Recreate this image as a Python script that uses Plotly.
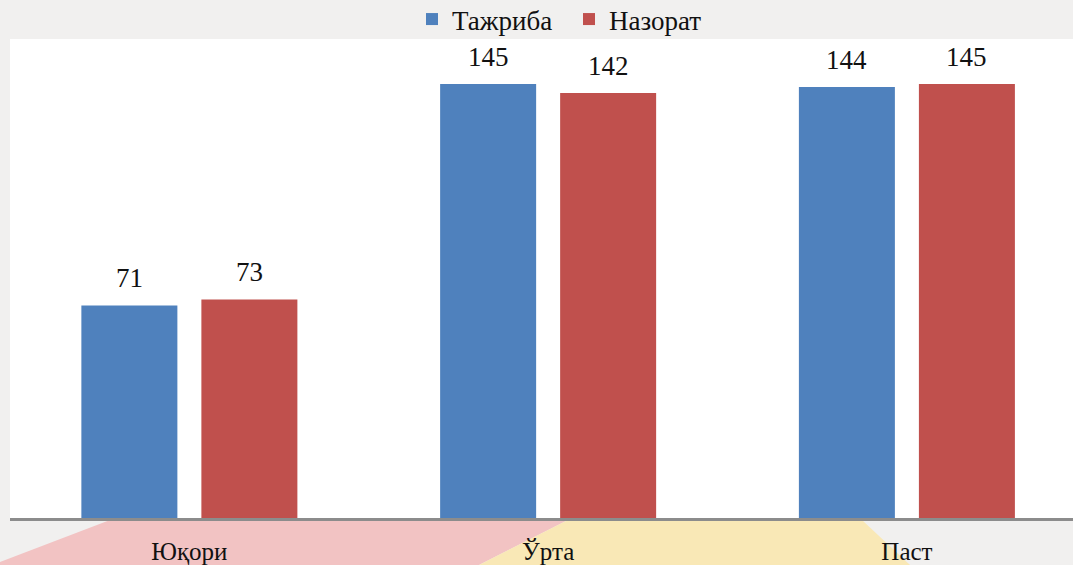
import plotly.graph_objects as go

# Knowledge-level groups and counts for the two groups
categories = ["Юқори", "Ўрта", "Паст"]
series_names = ["Тажриба", "Назорат"]
tajriba = [71, 145, 144]
nazorat = [73, 142, 145]

colors = ["#4f81bd", "#c0504d"]
font_family = "Liberation Serif, DejaVu Serif, serif"

W, H = 1073, 565
M_L, M_R, M_T, M_B = 10, 0, 39, 47
plot_w = W - M_L - M_R
plot_h = H - M_T - M_B


def px_to_paper(px, py):
    """Convert window pixels to paper coordinates for decorative shapes."""
    return (px - M_L) / plot_w, (H - M_B - py) / plot_h


xs = list(range(len(categories)))
fig = go.Figure()
for name, vals, col in zip(series_names, [tajriba, nazorat], colors):
    fig.add_trace(go.Bar(x=xs, y=vals, name=name, marker=dict(color=col, line=dict(width=0))))

# value labels above each bar
bargap = 0.331
slot = (1 - bargap) / 2
for k, vals in enumerate([tajriba, nazorat]):
    off = (k - 0.5) * slot
    for i, v in enumerate(vals):
        fig.add_annotation(x=i + off, y=v, xref="x", yref="y", text=str(v),
                           showarrow=False, yshift=27,
                           font=dict(family=font_family, size=27, color="#111111"))

# decorative coloured bands beneath the axis
def poly(points, color):
    pts = [px_to_paper(x, y) for x, y in points]
    path = "M " + " L ".join(f"{x:.4f},{y:.4f}" for x, y in pts) + " Z"
    fig.add_shape(type="path", path=path, xref="paper", yref="paper",
                  fillcolor=color, line=dict(width=0), layer="below")

poly([(110, 520), (568, 520), (479, 565), (0, 565), (0, 562)], "#f2c3c3")
poly([(568, 520), (862, 520), (910, 565), (479, 565)], "#f9e8b6")

legend_left_px = 412
fig.update_layout(
    width=W, height=H,
    margin=dict(l=M_L, r=M_R, t=M_T, b=M_B, pad=0, autoexpand=False),
    paper_bgcolor="#f1f0ef",
    plot_bgcolor="#ffffff",
    barmode="group",
    bargap=bargap,
    bargroupgap=0.2,
    showlegend=True,
    legend=dict(orientation="h", x=(legend_left_px - M_L) / plot_w, xanchor="left",
                y=1.0 - 5 / plot_h, yanchor="bottom",
                font=dict(family=font_family, size=27, color="#111111"),
                bgcolor="rgba(0,0,0,0)", itemwidth=30, traceorder="normal",
                entrywidth=112, entrywidthmode="pixels"),
    xaxis=dict(tickmode="array", tickvals=xs, ticktext=categories,
               range=[-0.5, 2.463], showgrid=False, zeroline=False,
               showline=True, linecolor="#8c8c8c", linewidth=3,
               ticks="outside", ticklen=9, tickcolor="rgba(0,0,0,0)",
               automargin=False,
               tickfont=dict(family=font_family, size=25, color="#111111")),
    yaxis=dict(range=[0, 160], visible=False, showgrid=False, zeroline=False,
               automargin=False),
)

fig.write_html("out.html")
